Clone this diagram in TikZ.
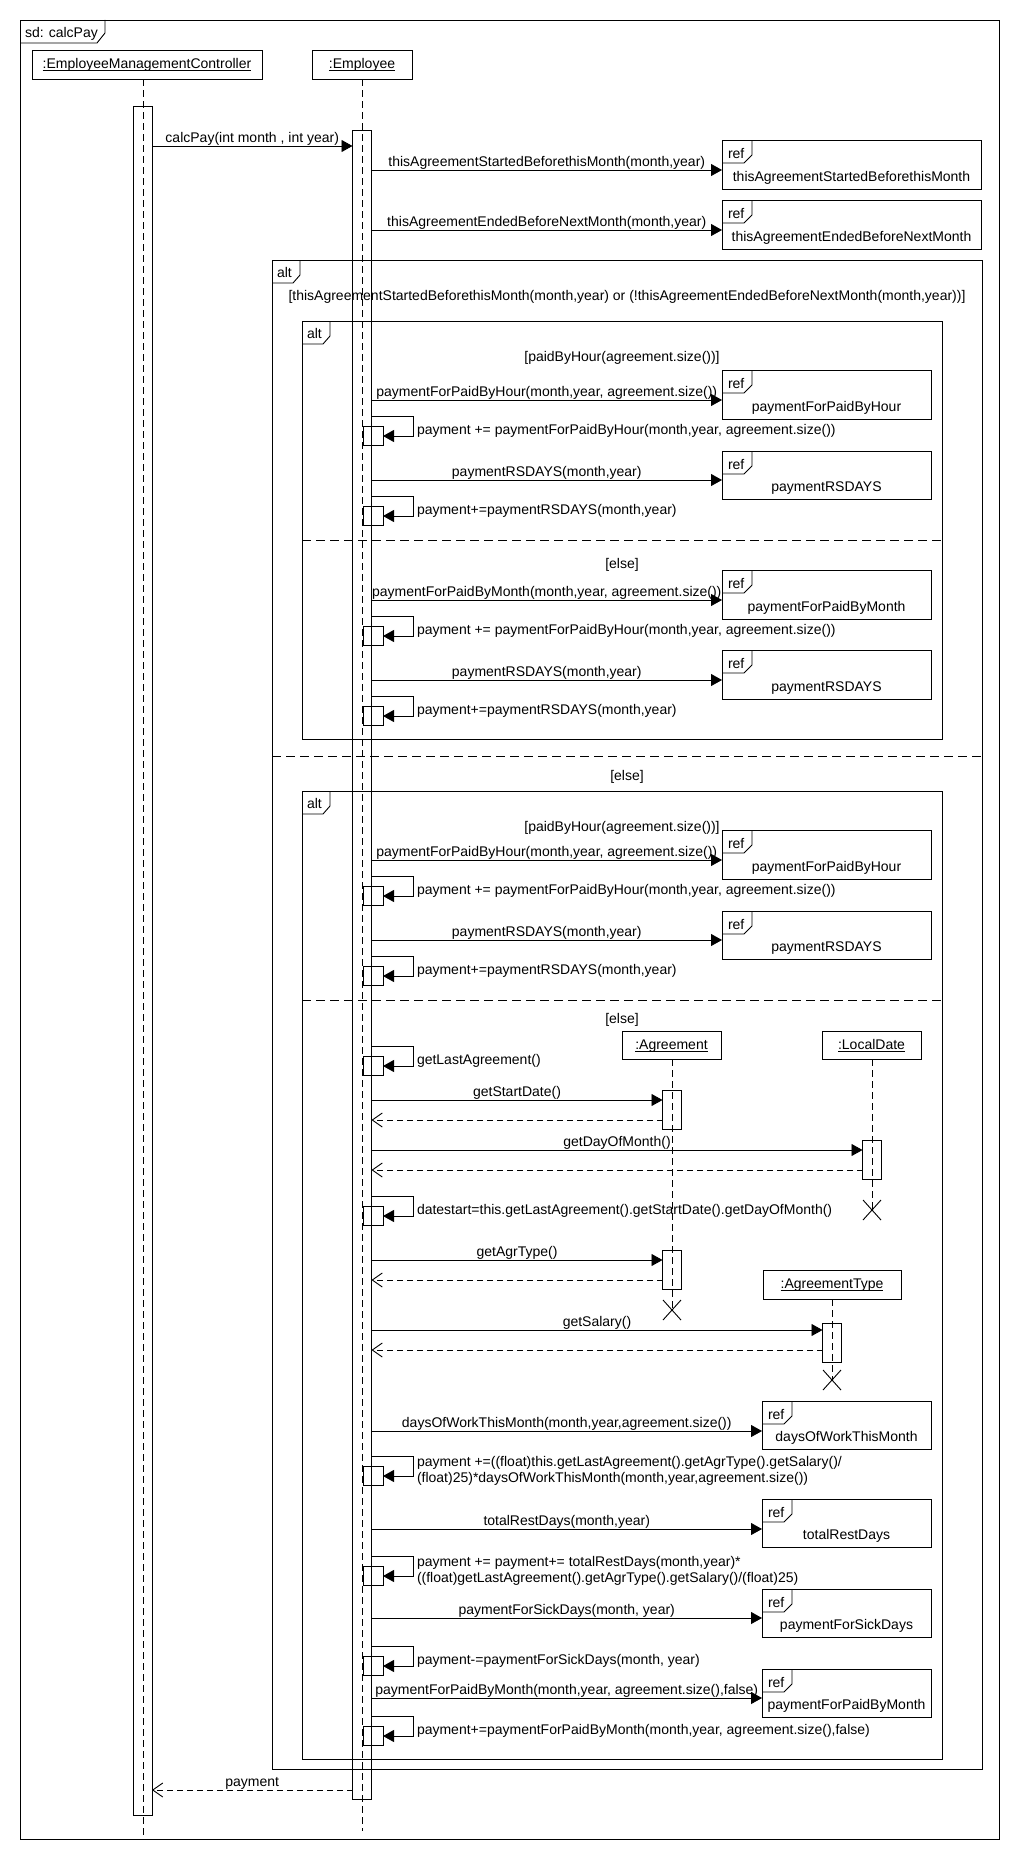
\documentclass[tikz,border=0pt]{standalone}
\usepackage{fontspec}
\setmainfont{Liberation Sans}
\usetikzlibrary{arrows.meta,fit,calc}

% reference (interaction use) box with its "ref" tab and title
\newcommand\refbox[3]{%
  \node[box={#2}] (#1) {};
  \draw (#1.north west) ++(0,23) -- ++(22,0) -- ++(8,-8) -- ++(0,-15);
  \node[anchor=base west] (#1-k) at ([shift={(6,18)}]#1.north west) {ref};
  \node[lbl] (#1-t) at ([shift={(0,-8)}]#1.south) {#3};}

% self message on the Employee lifeline: name, top y, label
\newcommand\selfcall[3]{%
  \node[box={(363,#2+10)(383,#2+29)}] (#1) {};
  \draw[call] (empbar.east |- 0,#2) -- (413,#2) -- (413,#2+20) -- (#1.east |- 0,#2+20);
  \node[anchor=base west] (#1-t) at (417,#2+18) {#3};}

% same with a label on two lines
\newcommand\selfcalltwo[4]{%
  \node[box={(363,#2+10)(383,#2+29)}] (#1) {};
  \draw[call] (empbar.east |- 0,#2) -- (413,#2) -- (413,#2+20) -- (#1.east |- 0,#2+20);
  \node[anchor=base west] (#1-t) at (417,#2+10) {#3};
  \node[anchor=base west] (#1-u) at (417,#2+26) {#4};}

% lifeline head with underlined name
\newcommand\lifehead[3]{%
  \node[box={#2}] (#1) {};
  \node[lbl] (#1-t) at ([yshift=-18.5pt]#1.north) {#3};
  \draw[line width=0.7pt] ([yshift=-2pt]#1-t.base west) -- ([yshift=-2pt]#1-t.base east);}

% destruction mark
\newcommand\destroy[1]{%
  \draw ([shift={(-9,-10)}]#1) -- ([shift={(9,10)}]#1)
        ([shift={(-9,10)}]#1) -- ([shift={(9,-10)}]#1);}

\begin{document}
\begin{tikzpicture}[x=1pt,y=-1pt,line width=0.9pt,
  every node/.style={font=\fontsize{14}{16}\selectfont, inner sep=0pt, outer sep=0pt},
  box/.style={draw, fit={#1}, inner sep=0pt},
  lbl/.style={anchor=base},
  mlabel/.style={midway, anchor=base, yshift=4pt},
  call/.style={-{Triangle[length=11pt,width=12pt]}},
  reply/.style={dash pattern=on 6pt off 4pt, -{Straight Barb[length=10pt,width=14pt]}},
  life/.style={dash pattern=on 7pt off 4pt},
  divider/.style={dash pattern=on 9pt off 5pt},
]
\useasboundingbox[fill=white] (0,0) rectangle (1022,1876);

% ---------- frames ----------
\node[box={(20,20)(999,1839)}] (sd) {};
\draw (sd.north west) ++(0,23) -- ++(77,0) -- ++(8,-10) -- ++(0,-13);
\node[anchor=base west] (sd-k) at ([shift={(5,17.5)}]sd.north west) {sd: calcPay};

\node[box={(272,260)(982,1769)}] (altA) {};
\draw (altA.north west) ++(0,23) -- ++(21,0) -- ++(7,-8) -- ++(0,-15);
\node[anchor=base west] (altA-k) at ([shift={(5,17.5)}]altA.north west) {alt};
\node[lbl] (gA1) at (627,300) {[thisAgreementStartedBeforethisMonth(month,year) or (!thisAgreementEndedBeforeNextMonth(month,year))]};
\draw[divider] (altA.west |- 0,756) -- (altA.east |- 0,756);
\node[lbl] (gA2) at (627,780) {[else]};

\node[box={(302,321)(942,739)}] (altB) {};
\draw (altB.north west) ++(0,23) -- ++(21,0) -- ++(7,-8) -- ++(0,-15);
\node[anchor=base west] (altB-k) at ([shift={(5,17.5)}]altB.north west) {alt};
\node[lbl] (gB1) at (622,361) {[paidByHour(agreement.size())]};
\draw[divider] (altB.west |- 0,540) -- (altB.east |- 0,540);
\node[lbl] (gB2) at (622,568) {[else]};

\node[box={(302,791)(942,1759)}] (altC) {};
\draw (altC.north west) ++(0,23) -- ++(21,0) -- ++(7,-8) -- ++(0,-15);
\node[anchor=base west] (altC-k) at ([shift={(5,17.5)}]altC.north west) {alt};
\node[lbl] (gC1) at (622,831) {[paidByHour(agreement.size())]};
\draw[divider] (altC.west |- 0,1000) -- (altC.east |- 0,1000);
\node[lbl] (gC2) at (622,1023) {[else]};

% ---------- lifelines ----------
\lifehead{ctrl}{(32,50)(262,79)}{:EmployeeManagementController}
\lifehead{emp}{(312,50)(412,79)}{:Employee}
\coordinate (ctrlend) at (143,1837);
\coordinate (empend) at (362,1831);
\draw[life] (ctrl.south -| ctrlend) -- (ctrlend);
\draw[life] (emp.south -| empend) -- (empend);
\node[box={(133,106)(152,1815)}] (ctrlbar) {};
\node[box={(352.5,130)(371.5,1799)}] (empbar) {};

\lifehead{agr}{(622,1031)(721,1059)}{:Agreement}
\coordinate (agrx) at (672,1310);
\draw[life] (agr.south -| agrx) -- (agrx);
\destroy{agrx}
\node[box={(662.5,1090)(681.5,1129)}] (agrbar1) {};
\node[box={(662.5,1250)(681.5,1289)}] (agrbar2) {};

\lifehead{ld}{(822,1031)(921,1059)}{:LocalDate}
\coordinate (ldx) at (872,1210);
\draw[life] (ld.south -| ldx) -- (ldx);
\destroy{ldx}
\node[box={(862.5,1140)(881.5,1179)}] (ldbar) {};

\lifehead{at}{(763,1270)(901,1299)}{:AgreementType}
\coordinate (atx) at (832,1380);
\draw[life] (at.south -| atx) -- (atx);
\destroy{atx}
\node[box={(822.5,1323)(841.5,1362)}] (atbar) {};

% ---------- referenced interactions ----------
\refbox{r1}{(722,140)(981,189)}{thisAgreementStartedBeforethisMonth}
\refbox{r2}{(722,200)(981,249)}{thisAgreementEndedBeforeNextMonth}
\refbox{r3}{(722,370)(931,419)}{paymentForPaidByHour}
\refbox{r4}{(722,451)(931,499)}{paymentRSDAYS}
\refbox{r5}{(722,570)(931,619)}{paymentForPaidByMonth}
\refbox{r6}{(722,650)(931,699)}{paymentRSDAYS}
\refbox{r7}{(722,830)(931,879)}{paymentForPaidByHour}
\refbox{r8}{(722,911)(931,959)}{paymentRSDAYS}
\refbox{r9}{(762,1401)(931,1449)}{daysOfWorkThisMonth}
\refbox{r10}{(762,1499)(931,1547)}{totalRestDays}
\refbox{r11}{(762,1589)(931,1637)}{paymentForSickDays}
\refbox{r12}{(762,1669)(931,1717)}{paymentForPaidByMonth}

% ---------- messages ----------
\draw[call] (ctrlbar.east |- 0,146) -- node[mlabel] (m0) {calcPay(int month , int year)} (empbar.west |- 0,146);
\draw[call] (empbar.east |- 0,170) -- node[mlabel] (m1) {thisAgreementStartedBeforethisMonth(month,year)} (r1.west |- 0,170);
\draw[call] (empbar.east |- 0,230) -- node[mlabel] (m2) {thisAgreementEndedBeforeNextMonth(month,year)} (r2.west |- 0,230);
\draw[call] (empbar.east |- 0,400) -- node[mlabel] (m3) {paymentForPaidByHour(month,year, agreement.size())} (r3.west |- 0,400);
\draw[call] (empbar.east |- 0,480) -- node[mlabel] (m4) {paymentRSDAYS(month,year)} (r4.west |- 0,480);
\draw[call] (empbar.east |- 0,600) -- node[mlabel] (m5) {paymentForPaidByMonth(month,year, agreement.size())} (r5.west |- 0,600);
\draw[call] (empbar.east |- 0,680) -- node[mlabel] (m6) {paymentRSDAYS(month,year)} (r6.west |- 0,680);
\draw[call] (empbar.east |- 0,860) -- node[mlabel] (m7) {paymentForPaidByHour(month,year, agreement.size())} (r7.west |- 0,860);
\draw[call] (empbar.east |- 0,940) -- node[mlabel] (m8) {paymentRSDAYS(month,year)} (r8.west |- 0,940);

\draw[call] (empbar.east |- 0,1100) -- node[mlabel] (m9) {getStartDate()} (agrbar1.west |- 0,1100);
\draw[reply] (agrbar1.west |- 0,1120) -- (empbar.east |- 0,1120);
\draw[call] (empbar.east |- 0,1150) -- node[mlabel] (m10) {getDayOfMonth()} (ldbar.west |- 0,1150);
\draw[reply] (ldbar.west |- 0,1170) -- (empbar.east |- 0,1170);
\draw[call] (empbar.east |- 0,1260) -- node[mlabel] (m11) {getAgrType()} (agrbar2.west |- 0,1260);
\draw[reply] (agrbar2.west |- 0,1280) -- (empbar.east |- 0,1280);
\draw[call] (empbar.east |- 0,1330) -- node[mlabel] (m12) {getSalary()} (atbar.west |- 0,1330);
\draw[reply] (atbar.west |- 0,1350) -- (empbar.east |- 0,1350);

\draw[call] (empbar.east |- 0,1431) -- node[mlabel] (m13) {daysOfWorkThisMonth(month,year,agreement.size())} (r9.west |- 0,1431);
\draw[call] (empbar.east |- 0,1529) -- node[mlabel] (m14) {totalRestDays(month,year)} (r10.west |- 0,1529);
\draw[call] (empbar.east |- 0,1618) -- node[mlabel] (m15) {paymentForSickDays(month, year)} (r11.west |- 0,1618);
\draw[call] (empbar.east |- 0,1698) -- node[mlabel] (m16) {paymentForPaidByMonth(month,year, agreement.size(),false)} (r12.west |- 0,1698);

\draw[reply] (empbar.west |- 0,1790) -- node[mlabel] (m17) {payment} (ctrlbar.east |- 0,1790);

% ---------- self messages ----------
\selfcall{s1}{416}{payment += paymentForPaidByHour(month,year, agreement.size())}
\selfcall{s2}{496}{payment+=paymentRSDAYS(month,year)}
\selfcall{s3}{616}{payment += paymentForPaidByHour(month,year, agreement.size())}
\selfcall{s4}{696}{payment+=paymentRSDAYS(month,year)}
\selfcall{s5}{876}{payment += paymentForPaidByHour(month,year, agreement.size())}
\selfcall{s6}{956}{payment+=paymentRSDAYS(month,year)}
\selfcall{s7}{1046}{getLastAgreement()}
\selfcall{s8}{1196}{datestart=this.getLastAgreement().getStartDate().getDayOfMonth()}
\selfcalltwo{s9}{1456}{payment +=((float)this.getLastAgreement().getAgrType().getSalary()/}{(float)25)*daysOfWorkThisMonth(month,year,agreement.size())}
\selfcalltwo{s10}{1556}{payment += payment+= totalRestDays(month,year)*}{((float)getLastAgreement().getAgrType().getSalary()/(float)25)}
\selfcall{s11}{1646}{payment-=paymentForSickDays(month, year)}
\selfcall{s12}{1716}{payment+=paymentForPaidByMonth(month,year, agreement.size(),false)}
\end{tikzpicture}
\end{document}
